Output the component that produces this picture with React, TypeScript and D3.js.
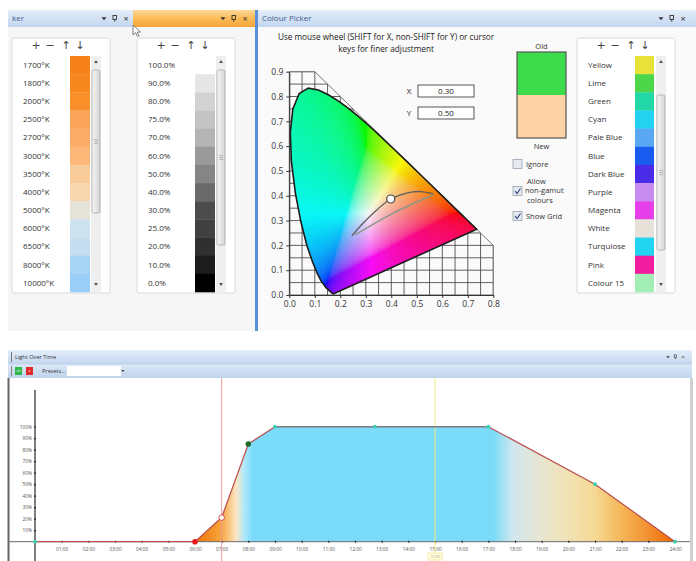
import React, { useEffect, useRef } from 'react';
import * as d3 from 'd3';

const W = 696;
const H = 561;

// colour temperature list
const kelvinLabels = ['1700°K', '1800°K', '2000°K', '2500°K', '2700°K', '3000°K', '3500°K', '4000°K', '5000°K', '6000°K', '6500°K', '8000°K', '10000°K'];
const kelvinSwatches = ['#f7821c', '#f7871f', '#f88f28', '#fba55a', '#fbad68', '#fbb878', '#f9cc9c', '#f7d6b0', '#e6e4d8', '#cfe2ef', '#c6def0', '#a8d4f5', '#98cef8'];

// intensity list
const levelLabels = ['100.0%', '90.0%', '80.0%', '75.0%', '70.0%', '60.0%', '50.0%', '40.0%', '30.0%', '25.0%', '20.0%', '10.0%', '0.0%'];
const levelSwatches = ['#ffffff', '#e6e6e6', '#d2d2d2', '#c4c4c4', '#b4b4b4', '#9a9a9a', '#858585', '#6a6a6a', '#4c4c4c', '#404040', '#303030', '#1c1c1c', '#000000'];

// named colour list
const colourNames = ['Yellow', 'Lime', 'Green', 'Cyan', 'Pale Blue', 'Blue', 'Dark Blue', 'Purple', 'Magenta', 'White', 'Turquiose', 'Pink', 'Colour 15'];
const colourSwatches = ['#e8e23a', '#4cd64a', '#22d8a6', '#22d2ee', '#5aa8f4', '#1a5cf0', '#4a2ce8', '#c88cf0', '#e63ee8', '#e6e2da', '#22d4f0', '#f01e9e', '#a2eeb4'];

// CIE 1931 chart
const cieXTicks = [0, 0.1, 0.2, 0.3, 0.4, 0.5, 0.6, 0.7, 0.8];
const cieYTicks = [0, 0.1, 0.2, 0.3, 0.4, 0.5, 0.6, 0.7, 0.8, 0.9];
const spectralLocus: [number, number][] = [
  [0.1741, 0.005], [0.1738, 0.0049], [0.1733, 0.0048], [0.1726, 0.0048], [0.1714, 0.0051],
  [0.1689, 0.0069], [0.1644, 0.0109], [0.1566, 0.0177], [0.144, 0.0297], [0.1241, 0.0578],
  [0.1096, 0.0868], [0.0913, 0.1327], [0.0687, 0.2007], [0.0454, 0.295], [0.0235, 0.4127],
  [0.0082, 0.5384], [0.0039, 0.6548], [0.0139, 0.7502], [0.0389, 0.812], [0.0743, 0.8338],
  [0.1142, 0.8262], [0.1547, 0.8059], [0.1929, 0.7816], [0.2296, 0.7543], [0.2658, 0.7243],
  [0.3016, 0.6923], [0.3373, 0.6589], [0.3731, 0.6245], [0.4087, 0.5896], [0.4441, 0.5547],
  [0.4788, 0.5202], [0.5125, 0.4866], [0.5448, 0.4544], [0.5752, 0.4242], [0.6029, 0.3965],
  [0.627, 0.3725], [0.6482, 0.3514], [0.6658, 0.334], [0.6801, 0.3197], [0.6915, 0.3083],
  [0.7006, 0.2993], [0.7079, 0.292], [0.714, 0.2859], [0.719, 0.2809], [0.726, 0.274],
  [0.73, 0.27], [0.7347, 0.2653],
];
const gridOutline: [number, number][] = [[0, 0], [0, 0.9], [0.1, 0.9], [0.8, 0.2], [0.8, 0]];
const whiteCurve: [number, number][] = [[0.245, 0.238], [0.29, 0.29], [0.343, 0.343], [0.398, 0.387], [0.46, 0.411], [0.513, 0.417], [0.565, 0.408]];
const whiteChord: [number, number][] = [[0.258, 0.242], [0.408, 0.33], [0.565, 0.404]];
const pickedXY: [number, number] = [0.398, 0.387];

// light over time
const hourLabels = ['01:00', '02:00', '03:00', '04:00', '05:00', '06:00', '07:00', '08:00', '09:00', '10:00', '11:00', '12:00',
  '13:00', '14:00', '15:00', '16:00', '17:00', '18:00', '19:00', '20:00', '21:00', '22:00', '23:00', '24:00'];
const hourTicks = [1, 2, 3, 4, 5, 6, 7, 8, 9, 10, 11, 12, 13, 14, 15, 16, 17, 18, 19, 20, 21, 22, 23, 24];
const percentTicks = [10, 20, 30, 40, 50, 60, 70, 80, 90, 100];
const percentLabels = ['10%', '20%', '30%', '40%', '50%', '60%', '70%', '80%', '90%', '100%'];
const lightHours = [0, 6, 7, 8, 9, 12.75, 17, 21, 24];
const lightLevels = [0, 0, 21, 85, 100, 100, 100, 50, 0];
const lightKinds = ['key', 'start', 'current', 'edit', 'key', 'key', 'key', 'key', 'key'];
const fillHours = [6, 7, 7.55, 7.85, 8.15, 17.2, 17.9, 19, 20, 21, 22, 23, 24];
const fillColours = ['#f07000', '#f6a640', '#fbe6c6', '#b0e8fa', '#7adcfa', '#7adcf8', '#cfe6ee', '#e8e6d0', '#f1e2b4', '#f5d894', '#f5b657', '#f39030', '#ef6400'];

const FONT = '"Open Sans", "DejaVu Sans", sans-serif';

// chromaticity -> display colour (half way between clipping and whitening)
function xyToRgb(x: number, y: number): string {
  const X = x / y, Y = 1, Z = (1 - x - y) / y;
  let r = 3.2406 * X - 1.5372 * Y - 0.4986 * Z;
  let g = -0.9689 * X + 1.8758 * Y + 0.0415 * Z;
  let b = 0.0557 * X - 0.204 * Y + 1.057 * Z;
  const lo = Math.min(r, g, b);
  if (lo < 0) { r -= 0.6 * lo; g -= 0.6 * lo; b -= 0.6 * lo; }
  r = Math.max(r, 0); g = Math.max(g, 0); b = Math.max(b, 0);
  const m = Math.max(r, g, b) || 1;
  const gam = (c: number) => (c <= 0.0031308 ? 12.92 * c : 1.055 * Math.pow(c, 1 / 2.4) - 0.055);
  const k = 0.93 * 255;
  return d3.rgb(gam(r / m) * k + 10, gam(g / m) * k + 10, gam(b / m) * k + 10).formatHex();
}

const App: React.FC = () => {
  const svgRef = useRef<SVGSVGElement>(null);

  useEffect(() => {
    if (!svgRef.current) return;
    const svg = d3.select(svgRef.current);
    svg.selectAll('*').remove();
    const defs = svg.append('defs');

    const gradient = (id: string, stops: [number, string][], vertical = true) => {
      const lg = defs.append('linearGradient').attr('id', id)
        .attr('x1', 0).attr('y1', 0).attr('x2', vertical ? 0 : 1).attr('y2', vertical ? 1 : 0);
      stops.forEach(([o, c]) => lg.append('stop').attr('offset', o).attr('stop-color', c));
    };
    gradient('barBlue', [[0, '#e4eefa'], [1, '#c3d6ef']]);
    gradient('barOrange', [[0, '#fdd899'], [0.5, '#fbbb55'], [1, '#f8a33a']]);
    gradient('tool', [[0, '#dce8f7'], [1, '#bfd3ec']]);
    gradient('thumb', [[0, '#f6f6f6'], [1, '#d4d4d4']], false);

    svg.append('rect').attr('width', W).attr('height', H).attr('fill', '#fff');

    // ---------- top panels ----------
    svg.append('rect').attr('x', 8).attr('y', 27).attr('width', 247).attr('height', 304).attr('fill', '#f6f6f6');
    svg.append('rect').attr('x', 258).attr('y', 27).attr('width', 438).attr('height', 304).attr('fill', '#fafafa');

    const titleBar = (x: number, y: number, w: number, h: number, fill: string, label: string, iconsAt: number, size = 8) => {
      svg.append('rect').attr('x', x).attr('y', y).attr('width', w).attr('height', h).attr('fill', fill);
      if (label) {
        svg.append('text').attr('x', x + 4).attr('y', y + h / 2).attr('dy', '0.35em')
          .attr('font-family', FONT).attr('font-size', size).attr('fill', '#3b5b8c').text(label);
      }
      const cy = y + h / 2;
      const s = size / 8;
      svg.append('path').attr('d', `M${iconsAt - 2.5 * s},${cy - 1.2 * s}h${5 * s}l${-2.5 * s},${3 * s}z`).attr('fill', '#333');
      svg.append('rect').attr('x', iconsAt + 9 * s).attr('y', cy - 3 * s).attr('width', 3.5 * s).attr('height', 4 * s)
        .attr('fill', 'none').attr('stroke', '#333').attr('stroke-width', 0.9 * s);
      svg.append('line').attr('x1', iconsAt + 10.75 * s).attr('x2', iconsAt + 10.75 * s).attr('y1', cy + 1 * s).attr('y2', cy + 3.2 * s)
        .attr('stroke', '#333').attr('stroke-width', 0.9 * s);
      svg.append('text').attr('x', iconsAt + 22 * s).attr('y', cy).attr('dy', '0.35em').attr('text-anchor', 'middle')
        .attr('font-family', FONT).attr('font-size', 9 * s).attr('fill', '#333').text('×');
    };
    titleBar(8, 10, 125, 17, 'url(#barBlue)', 'ker', 104);
    titleBar(133, 10, 122, 17, 'url(#barOrange)', '', 223);
    titleBar(258, 10, 438, 17, 'url(#barBlue)', 'Colour Picker', 661);
    svg.append('rect').attr('x', 255).attr('y', 10).attr('width', 3).attr('height', 321).attr('fill', '#5b8fd6');

    // list boxes
    const listBox = (left: number, labels: string[], fills: string[], thumb: [number, number], swW = 20) => {
      const g = svg.append('g');
      g.append('rect').attr('x', left).attr('y', 38).attr('width', 98).attr('height', 255).attr('rx', 2)
        .attr('fill', '#fff').attr('stroke', '#dadada');
      const glyphs = ['+', '−', '↑', '↓'];
      const offs = [24, 38, 54, 68];
      glyphs.forEach((t, i) => g.append('text').attr('x', left + offs[i]).attr('y', 45).attr('dy', '0.35em')
        .attr('text-anchor', 'middle').attr('font-family', '"DejaVu Sans", sans-serif').attr('font-size', 11)
        .attr('fill', '#444').text(t));
      const band = d3.scaleBand<string>().domain(labels).range([56, 292]);
      labels.forEach((lab, i) => {
        g.append('rect').attr('x', left + 58).attr('y', band(lab)!).attr('width', swW).attr('height', band.bandwidth() + 0.3)
          .attr('fill', fills[i]);
        g.append('text').attr('x', left + 11).attr('y', band(lab)! + band.bandwidth() / 2).attr('dy', '0.35em')
          .attr('font-family', FONT).attr('font-size', 8).attr('fill', '#333').text(lab);
      });
      const sx = left + 79;
      g.append('rect').attr('x', sx).attr('y', 56).attr('width', 10).attr('height', 236).attr('fill', '#efefef');
      g.append('path').attr('d', `M${sx + 3},${63}h4l-2,-3z`).attr('fill', '#555');
      g.append('path').attr('d', `M${sx + 3},${283}h4l-2,3z`).attr('fill', '#555');
      g.append('rect').attr('x', sx + 1).attr('y', thumb[0]).attr('width', 8).attr('height', thumb[1] - thumb[0])
        .attr('rx', 1.5).attr('fill', 'url(#thumb)').attr('stroke', '#a9a9a9').attr('stroke-width', 0.8);
      const mid = (thumb[0] + thumb[1]) / 2;
      [-2, 0, 2].forEach(d => g.append('line').attr('x1', sx + 3).attr('x2', sx + 7).attr('y1', mid + d).attr('y2', mid + d)
        .attr('stroke', '#999').attr('stroke-width', 0.6));
    };
    listBox(12, kelvinLabels, kelvinSwatches, [70, 213]);
    listBox(137, levelLabels, levelSwatches, [70, 245]);
    listBox(577, colourNames, colourSwatches, [95, 250], 19);

    // ---------- colour picker ----------
    ['Use mouse wheel (SHIFT for X, non-SHIFT for Y) or cursor', 'keys for finer adjustment'].forEach((t, i) =>
      svg.append('text').attr('x', 386).attr('y', 37 + i * 12).attr('dy', '0.35em').attr('text-anchor', 'middle')
        .attr('font-family', FONT).attr('font-size', 8.2).attr('fill', '#222').text(t));

    const xs = d3.scaleLinear().domain([0, 0.8]).range([289.3, 493.3]);
    const ys = d3.scaleLinear().domain([0, 0.9]).range([295, 71.7]);
    const toPx = (p: [number, number]): [number, number] => [xs(p[0]), ys(p[1])];

    defs.append('clipPath').attr('id', 'gridClip').append('path')
      .attr('d', d3.line().curve(d3.curveLinearClosed)(gridOutline.map(toPx)));
    defs.append('clipPath').attr('id', 'locusClip').append('path')
      .attr('d', d3.line().curve(d3.curveLinearClosed)(spectralLocus.map(toPx)));

    const grid = svg.append('g').attr('clip-path', 'url(#gridClip)').attr('stroke', '#3a3a3a').attr('stroke-width', 0.8);
    d3.range(0, 0.801, 0.05).forEach(v => grid.append('line').attr('x1', xs(v)).attr('x2', xs(v)).attr('y1', ys(0)).attr('y2', ys(0.9)));
    d3.range(0, 0.901, 0.05).forEach(v => grid.append('line').attr('y1', ys(v)).attr('y2', ys(v)).attr('x1', xs(0)).attr('x2', xs(0.8)));
    svg.append('path').attr('d', d3.line()(gridOutline.map(toPx))).attr('fill', 'none').attr('stroke', '#555').attr('stroke-width', 0.8);

    // gamut fill
    const gamut = svg.append('g').attr('clip-path', 'url(#locusClip)');
    const step = 0.008;
    const poly = spectralLocus;
    for (let cx = 0; cx < 0.74; cx += step) {
      for (let cy = 0; cy < 0.84; cy += step) {
        const corners: [number, number][] = [[cx, cy], [cx + step, cy], [cx, cy + step], [cx + step, cy + step], [cx + step / 2, cy + step / 2]];
        if (!corners.some(c => d3.polygonContains(poly, c))) continue;
        const mx = cx + step / 2, my = Math.max(cy + step / 2, 0.004);
        gamut.append('rect').attr('x', xs(cx)).attr('y', ys(cy + step))
          .attr('width', xs(step) - xs(0) + 0.6).attr('height', ys(0) - ys(step) + 0.6)
          .attr('fill', xyToRgb(mx, my));
      }
    }
    svg.append('path').attr('d', d3.line().curve(d3.curveLinearClosed)(spectralLocus.map(toPx)))
      .attr('fill', 'none').attr('stroke', '#1c1c1c').attr('stroke-width', 1.6);

    // white point curves
    svg.append('path').attr('d', d3.line().curve(d3.curveCatmullRom)(whiteChord.map(toPx)))
      .attr('fill', 'none').attr('stroke', '#8b9882').attr('stroke-width', 1.5);
    svg.append('path').attr('d', d3.line().curve(d3.curveCatmullRom)(whiteCurve.map(toPx)))
      .attr('fill', 'none').attr('stroke', '#5e5e5e').attr('stroke-width', 1.3);
    svg.append('circle').attr('cx', xs(pickedXY[0])).attr('cy', ys(pickedXY[1])).attr('r', 4)
      .attr('fill', '#fff').attr('stroke', '#444').attr('stroke-width', 1.2);

    // axes
    const styleAxis = (g: d3.Selection<SVGGElement, unknown, null, undefined>) => {
      g.selectAll('text').attr('font-family', FONT).attr('font-size', 8.5).attr('fill', '#333');
      g.selectAll('line,path').attr('stroke', '#333');
    };
    svg.append('g').attr('transform', `translate(0,${ys(0)})`)
      .call(d3.axisBottom(xs).tickValues(cieXTicks).tickFormat(d3.format('.1f')).tickSize(3).tickSizeOuter(0))
      .call(styleAxis);
    svg.append('g').attr('transform', `translate(${xs(0)},0)`)
      .call(d3.axisLeft(ys).tickValues(cieYTicks).tickFormat(d3.format('.1f')).tickSize(3).tickSizeOuter(0))
      .call(styleAxis);

    // X / Y inputs
    [['X', '0.30', 85], ['Y', '0.50', 107]].forEach(([lab, val, y]) => {
      const yy = y as number;
      svg.append('text').attr('x', 409).attr('y', yy + 6).attr('dy', '0.35em').attr('text-anchor', 'middle')
        .attr('font-family', FONT).attr('font-size', 8).attr('fill', '#222').text(lab as string);
      svg.append('rect').attr('x', 418).attr('y', yy).attr('width', 56).attr('height', 12)
        .attr('fill', '#fff').attr('stroke', '#444').attr('stroke-width', 0.9);
      svg.append('text').attr('x', 446).attr('y', yy + 6).attr('dy', '0.35em').attr('text-anchor', 'middle')
        .attr('font-family', FONT).attr('font-size', 8).attr('fill', '#222').text(val as string);
    });

    // old / new swatch
    svg.append('text').attr('x', 541.5).attr('y', 46).attr('dy', '0.35em').attr('text-anchor', 'middle')
      .attr('font-family', FONT).attr('font-size', 7.5).attr('fill', '#333').text('Old');
    svg.append('rect').attr('x', 517).attr('y', 52).attr('width', 49).attr('height', 43).attr('fill', '#3ddc4c');
    svg.append('rect').attr('x', 517).attr('y', 95).attr('width', 49).attr('height', 43).attr('fill', '#fdd3a5');
    svg.append('rect').attr('x', 517).attr('y', 52).attr('width', 49).attr('height', 86)
      .attr('fill', 'none').attr('stroke', '#555').attr('stroke-width', 1.2);
    svg.append('text').attr('x', 541.5).attr('y', 146).attr('dy', '0.35em').attr('text-anchor', 'middle')
      .attr('font-family', FONT).attr('font-size', 7.5).attr('fill', '#333').text('New');

    const checkbox = (y: number, checked: boolean) => {
      svg.append('rect').attr('x', 513).attr('y', y).attr('width', 9).attr('height', 9)
        .attr('fill', '#e6e9f0').attr('stroke', '#9aa3b0').attr('stroke-width', 0.8);
      if (checked) {
        svg.append('path').attr('d', `M${515},${y + 4.5}l2,2.5l3.5,-5`).attr('fill', 'none')
          .attr('stroke', '#2a3f7a').attr('stroke-width', 1.1);
      }
    };
    const label = (x: number, y: number, t: string) => svg.append('text').attr('x', x).attr('y', y).attr('dy', '0.35em')
      .attr('font-family', FONT).attr('font-size', 7.5).attr('fill', '#333').text(t);
    checkbox(159.5, false); label(526, 164, 'Ignore');
    checkbox(186.5, true); label(527, 181, 'Allow'); label(525, 190.5, 'non-gamut'); label(527, 200, 'colours');
    checkbox(211.5, true); label(526, 216, 'Show Grid');

    // mouse cursor
    svg.append('path').attr('d', 'M0,0 L0,10 L2.6,7.6 L4.4,11.4 L6,10.7 L4.3,7 L7.6,7 Z')
      .attr('transform', 'translate(133,25)').attr('fill', '#fff').attr('stroke', '#666').attr('stroke-width', 0.8);

    // ---------- light over time ----------
    svg.append('rect').attr('x', 8).attr('y', 350).attr('width', 684).attr('height', 14).attr('fill', 'url(#barBlue)');
    svg.append('rect').attr('x', 8).attr('y', 364).attr('width', 684).attr('height', 14).attr('fill', 'url(#tool)');
    svg.append('line').attr('x1', 8).attr('x2', 692).attr('y1', 364).attr('y2', 364).attr('stroke', '#b5c9e4').attr('stroke-width', 0.6);
    svg.append('rect').attr('x', 11).attr('y', 352).attr('width', 1).attr('height', 10).attr('fill', '#777');
    svg.append('text').attr('x', 15).attr('y', 357).attr('dy', '0.35em').attr('font-family', FONT).attr('font-size', 5.6)
      .attr('fill', '#333').text('Light Over Time');
    titleBar(8, 350, 0, 14, 'none', '', 668, 5.5);
    svg.append('rect').attr('x', 11).attr('y', 366).attr('width', 1).attr('height', 10).attr('fill', '#888');
    svg.append('rect').attr('x', 15).attr('y', 367).attr('width', 7).attr('height', 8).attr('fill', '#2cb84a');
    svg.append('text').attr('x', 18.5).attr('y', 371).attr('dy', '0.35em').attr('text-anchor', 'middle')
      .attr('font-family', FONT).attr('font-size', 3.5).attr('fill', '#fff').text('ok');
    svg.append('rect').attr('x', 26).attr('y', 367).attr('width', 7).attr('height', 8).attr('fill', '#e02a2a');
    svg.append('text').attr('x', 29.5).attr('y', 371).attr('dy', '0.35em').attr('text-anchor', 'middle')
      .attr('font-family', FONT).attr('font-size', 3.5).attr('fill', '#fff').text('x');
    svg.append('text').attr('x', 42).attr('y', 371).attr('dy', '0.35em').attr('font-family', FONT).attr('font-size', 5.6)
      .attr('fill', '#333').text('Presets...');
    svg.append('rect').attr('x', 67).attr('y', 366).attr('width', 54).attr('height', 10).attr('fill', '#fff');
    svg.append('path').attr('d', 'M121.5,370 h3 l-1.5,2 z').attr('fill', '#333');

    svg.append('rect').attr('x', 9).attr('y', 378).attr('width', 682).attr('height', H - 378).attr('fill', '#fff');
    svg.append('rect').attr('x', 7.5).attr('y', 378).attr('width', 2).attr('height', H - 378).attr('fill', '#666');
    svg.append('rect').attr('x', 690).attr('y', 378).attr('width', 3).attr('height', H - 378).attr('fill', '#cfcfcf');

    const xh = d3.scaleLinear().domain([0, 24]).range([35, 675]);
    const yl = d3.scaleLinear().domain([0, 100]).range([541.7, 426.7]);
    const pts = lightHours.map((h, i) => ({ h, v: lightLevels[i], kind: lightKinds[i] }));

    const fg = defs.append('linearGradient').attr('id', 'lightFill').attr('gradientUnits', 'userSpaceOnUse')
      .attr('x1', xh(0)).attr('x2', xh(24)).attr('y1', 0).attr('y2', 0);
    fillHours.forEach((h, i) => fg.append('stop').attr('offset', h / 24).attr('stop-color', fillColours[i]));

    svg.append('path').datum(pts)
      .attr('d', d3.area<typeof pts[0]>().x(d => xh(d.h)).y0(yl(0)).y1(d => yl(d.v)))
      .attr('fill', 'url(#lightFill)');

    // axes
    svg.append('line').attr('x1', 9).attr('x2', 690).attr('y1', yl(0)).attr('y2', yl(0)).attr('stroke', '#6a6a6a').attr('stroke-width', 1);
    svg.append('line').attr('x1', xh(0)).attr('x2', xh(0)).attr('y1', 390).attr('y2', H).attr('stroke', '#555').attr('stroke-width', 1.5);
    const tinyAxis = (g: d3.Selection<SVGGElement, unknown, null, undefined>) => {
      g.select('.domain').remove();
      g.selectAll('text').attr('font-family', FONT).attr('font-size', 4.8).attr('fill', '#555');
      g.selectAll('line').attr('stroke', '#222').attr('stroke-width', 1.2);
    };
    svg.append('g').attr('transform', `translate(0,${yl(0) - 1})`)
      .call(d3.axisBottom(xh).tickValues(hourTicks).tickFormat((_d, i) => hourLabels[i]).tickSize(2).tickPadding(5))
      .call(tinyAxis);
    svg.append('g').attr('transform', `translate(${xh(0) + 1},0)`)
      .call(d3.axisLeft(yl).tickValues(percentTicks).tickFormat((_d, i) => percentLabels[i]).tickSize(2).tickPadding(2))
      .call(tinyAxis);

    // time markers
    svg.append('line').attr('x1', xh(7)).attr('x2', xh(7)).attr('y1', 378).attr('y2', H).attr('stroke', '#ec9a9a').attr('stroke-width', 1);
    svg.append('line').attr('x1', xh(15)).attr('x2', xh(15)).attr('y1', 378).attr('y2', H).attr('stroke', '#f2ea80').attr('stroke-width', 1);
    svg.append('rect').attr('x', xh(15) - 7).attr('y', 553).attr('width', 14).attr('height', 7)
      .attr('fill', '#fffde8').attr('stroke', '#eee070').attr('stroke-width', 0.6);
    svg.append('text').attr('x', xh(15)).attr('y', 556.5).attr('dy', '0.35em').attr('text-anchor', 'middle')
      .attr('font-family', FONT).attr('font-size', 3.8).attr('fill', '#b8a84a').text('15:00');

    // profile line
    d3.pairs(pts).forEach(([a, b]) => {
      const flat = a.v === 100 && b.v === 100;
      svg.append('line').attr('x1', xh(a.h)).attr('y1', yl(a.v)).attr('x2', xh(b.h)).attr('y2', yl(b.v))
        .attr('stroke', flat ? '#7a7a7a' : '#b94e4e').attr('stroke-width', flat ? 1.6 : 1.2);
    });
    pts.forEach(p => {
      const c = svg.append('circle').attr('cx', xh(p.h)).attr('cy', yl(p.v));
      if (p.kind === 'start') c.attr('r', 2.8).attr('fill', '#e81c1c');
      else if (p.kind === 'current') c.attr('r', 2.8).attr('fill', '#fff').attr('stroke', '#c84040').attr('stroke-width', 0.9);
      else if (p.kind === 'edit') c.attr('r', 2.8).attr('fill', '#1e6a2e');
      else c.attr('r', 1.9).attr('fill', '#3ccfb0');
    });
  }, []);

  return (
    <div style={{ position: 'absolute', left: 0, top: 0 }}>
      <svg ref={svgRef} width={W} height={H} style={{ display: 'block' }} />
    </div>
  );
};

export default App;
